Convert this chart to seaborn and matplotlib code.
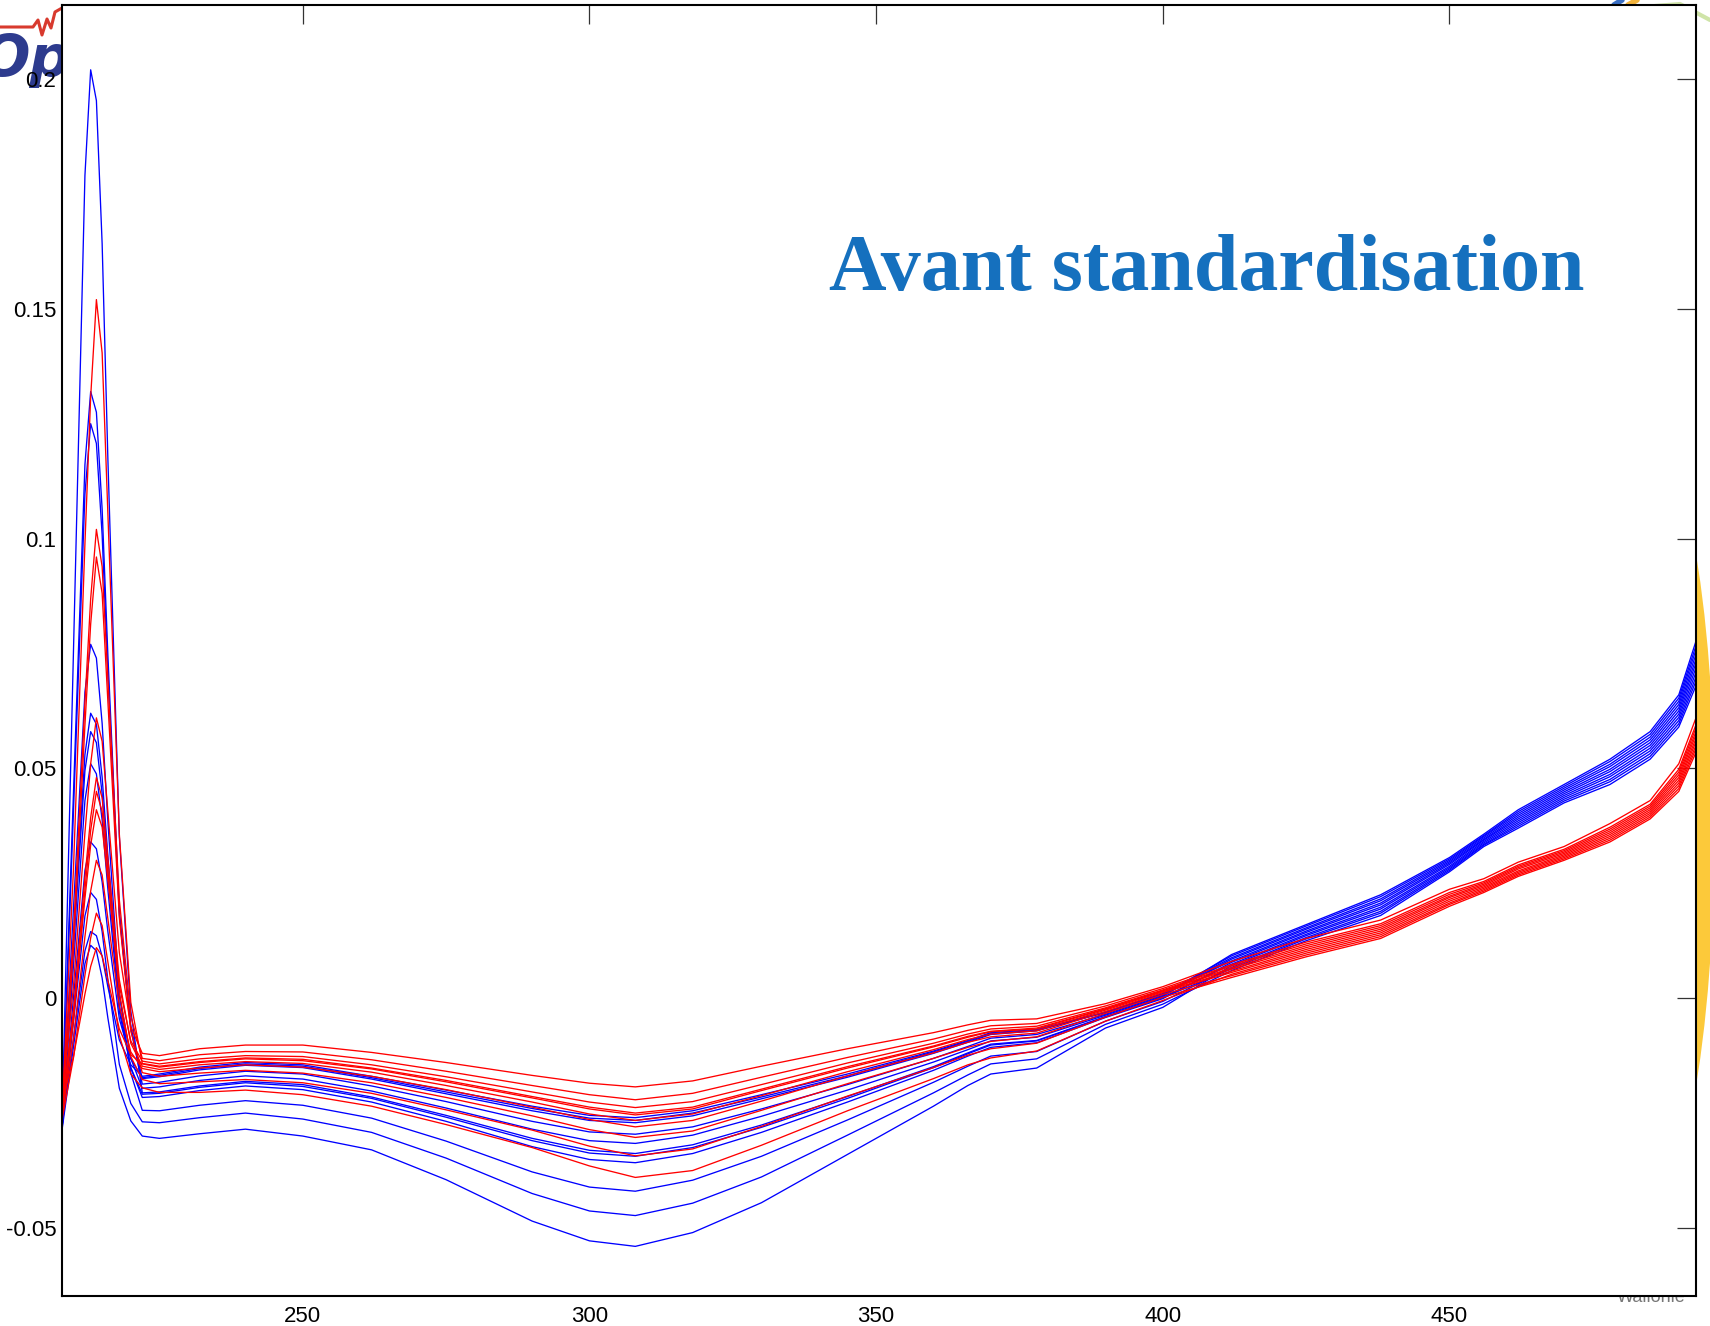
import matplotlib
matplotlib.use("Agg")
import matplotlib.pyplot as plt
from matplotlib.patches import Ellipse
from matplotlib.lines import Line2D
import pandas as pd
import seaborn as sns

# Wavelength grid (nm) shared by every spectrum
wavelength = [208, 210, 212, 213, 214, 215, 216, 218, 220, 222, 225, 232, 240, 250,
              262, 275, 290, 300, 308, 318, 330, 345, 360, 366, 370, 378, 390, 400,
              412, 425, 438, 450, 456, 462, 470, 478, 485, 490, 493]

# Lot A spectra (blue)
blue_01 = [-0.028, 0.0755, 0.179, 0.202, 0.1953, 0.1642, 0.1174, 0.0351, -0.0028,
           -0.0206, -0.0204, -0.0191, -0.0181, -0.0188, -0.0215, -0.0255, -0.0305, -0.0331, -0.0338,
           -0.0319, -0.0276, -0.0214, -0.0149, -0.0119, -0.0100, -0.0092, -0.0040, 0.0002,
           0.0074, 0.0139, 0.0198, 0.0287, 0.0341, 0.0386, 0.0441, 0.0487, 0.0544, 0.0618, 0.0719]
blue_02 = [-0.027, 0.0446, 0.1161, 0.132, 0.1275, 0.1064, 0.0747, 0.0190, -0.0066,
           -0.0187, -0.0183, -0.0169, -0.0159, -0.0165, -0.0191, -0.0225, -0.0268, -0.0291, -0.0296,
           -0.0280, -0.0241, -0.0188, -0.0131, -0.0105, -0.0087, -0.0079, -0.0035, 0.0006,
           0.0085, 0.0150, 0.0212, 0.0297, 0.0349, 0.0398, 0.0453, 0.0504, 0.0562, 0.0639, 0.0748]
blue_03 = [-0.0285, 0.0406, 0.1097, 0.125, 0.1207, 0.1008, 0.0709, 0.0181, -0.0061,
           -0.0175, -0.0171, -0.0156, -0.0146, -0.0151, -0.0176, -0.0208, -0.0245, -0.0266, -0.0271,
           -0.0256, -0.0219, -0.0172, -0.0120, -0.0096, -0.0079, -0.0071, -0.0031, 0.0009,
           0.0092, 0.0157, 0.0221, 0.0303, 0.0354, 0.0406, 0.0461, 0.0515, 0.0574, 0.0653, 0.0767]
blue_04 = [-0.0275, 0.0195, 0.0666, 0.077, 0.0740, 0.0598, 0.0385, 0.0010, -0.0163,
           -0.0244, -0.0245, -0.0233, -0.0223, -0.0233, -0.0261, -0.0311, -0.0378, -0.0411, -0.0420,
           -0.0396, -0.0344, -0.0265, -0.0183, -0.0148, -0.0126, -0.0116, -0.0050, -0.0007,
           0.0067, 0.0132, 0.0189, 0.0281, 0.0335, 0.0378, 0.0433, 0.0476, 0.0532, 0.0604, 0.0699]
blue_05 = [-0.028, 0.0125, 0.053, 0.062, 0.0596, 0.0481, 0.0310, 0.0008, -0.0131,
           -0.0196, -0.0193, -0.0179, -0.0169, -0.0176, -0.0202, -0.0239, -0.0285, -0.0310, -0.0316,
           -0.0298, -0.0257, -0.0200, -0.0139, -0.0112, -0.0093, -0.0085, -0.0037, 0.0004,
           0.0095, 0.0160, 0.0225, 0.0306, 0.0357, 0.0410, 0.0465, 0.0520, 0.0580, 0.0660, 0.0777]
blue_06 = [-0.0272, 0.0111, 0.0495, 0.058, 0.0556, 0.0445, 0.0278, -0.0017, -0.0152,
           -0.0216, -0.0214, -0.0201, -0.0191, -0.0199, -0.0226, -0.0268, -0.0323, -0.0351, -0.0358,
           -0.0338, -0.0292, -0.0226, -0.0157, -0.0126, -0.0107, -0.0097, -0.0042, -0.0001,
           0.0078, 0.0143, 0.0203, 0.0291, 0.0344, 0.0390, 0.0445, 0.0493, 0.0550, 0.0625, 0.0729]
blue_07 = [-0.0288, 0.0071, 0.0430, 0.051, 0.0488, 0.0388, 0.0237, -0.0029, -0.0151,
           -0.0209, -0.0207, -0.0194, -0.0184, -0.0192, -0.0218, -0.0259, -0.0310, -0.0337, -0.0344,
           -0.0325, -0.0281, -0.0218, -0.0151, -0.0121, -0.0102, -0.0093, -0.0041, 0.0001,
           0.0064, 0.0129, 0.0185, 0.0278, 0.0333, 0.0374, 0.0429, 0.0471, 0.0526, 0.0597, 0.0690]
blue_08 = [-0.0276, 0.0001, 0.0278, 0.034, 0.0325, 0.0253, 0.0145, -0.0045, -0.0132,
           -0.0173, -0.0168, -0.0153, -0.0143, -0.0148, -0.0173, -0.0204, -0.0240, -0.0261, -0.0266,
           -0.0250, -0.0215, -0.0169, -0.0117, -0.0094, -0.0077, -0.0070, -0.0031, 0.0009,
           0.0088, 0.0153, 0.0216, 0.0300, 0.0352, 0.0402, 0.0457, 0.0509, 0.0568, 0.0646, 0.0758]
blue_09 = [-0.0282, -0.0052, 0.0179, 0.023, 0.0215, 0.0145, 0.0040, -0.0144, -0.0229,
           -0.0269, -0.0271, -0.0260, -0.0250, -0.0263, -0.0292, -0.0348, -0.0425, -0.0463, -0.0473,
           -0.0446, -0.0389, -0.0298, -0.0206, -0.0167, -0.0143, -0.0132, -0.0057, -0.0013,
           0.0060, 0.0125, 0.0180, 0.0275, 0.0330, 0.0370, 0.0425, 0.0465, 0.0520, 0.0590, 0.0680]
blue_10 = [-0.0279, -0.0088, 0.0103, 0.0145, 0.0136, 0.0091, 0.0025, -0.0091, -0.0145,
           -0.0170, -0.0165, -0.0150, -0.0140, -0.0145, -0.0170, -0.0200, -0.0235, -0.0255, -0.0260,
           -0.0245, -0.0210, -0.0165, -0.0115, -0.0092, -0.0075, -0.0068, -0.0030, 0.0010,
           0.0081, 0.0146, 0.0207, 0.0294, 0.0346, 0.0394, 0.0449, 0.0498, 0.0556, 0.0632, 0.0738]
blue_11 = [-0.0287, -0.0106, 0.0075, 0.0115, 0.0103, 0.0044, -0.0043, -0.0196, -0.0267,
           -0.0300, -0.0305, -0.0295, -0.0285, -0.0300, -0.0330, -0.0395, -0.0485, -0.0528, -0.0540,
           -0.0510, -0.0445, -0.0340, -0.0235, -0.0190, -0.0165, -0.0152, -0.0065, -0.0020,
           0.0071, 0.0136, 0.0194, 0.0284, 0.0338, 0.0382, 0.0437, 0.0482, 0.0538, 0.0611, 0.0709]

# Lot B spectra (red)
red_01 = [-0.025, 0.0281, 0.0989, 0.1308, 0.152, 0.1404, 0.1055, 0.0357, -0.0009,
          -0.0142, -0.0148, -0.0138, -0.0130, -0.0133, -0.0152, -0.0179, -0.0214, -0.0237, -0.0250,
          -0.0237, -0.0198, -0.0149, -0.0104, -0.0083, -0.0072, -0.0065, -0.0023, 0.0016,
          0.0063, 0.0110, 0.0150, 0.0219, 0.0245, 0.0281, 0.0315, 0.0360, 0.0410, 0.0480, 0.0573]
red_02 = [-0.0235, 0.0142, 0.0644, 0.0869, 0.102, 0.0939, 0.0698, 0.0214, -0.0039,
          -0.0131, -0.0136, -0.0123, -0.0116, -0.0117, -0.0134, -0.0159, -0.0190, -0.0210, -0.0221,
          -0.0207, -0.0172, -0.0129, -0.0089, -0.0070, -0.0060, -0.0055, -0.0017, 0.0021,
          0.0073, 0.0122, 0.0162, 0.0230, 0.0254, 0.0290, 0.0324, 0.0372, 0.0422, 0.0498, 0.0595]
red_03 = [-0.026, 0.0106, 0.0594, 0.0814, 0.096, 0.0881, 0.0646, 0.0175, -0.0072,
          -0.0162, -0.0170, -0.0163, -0.0157, -0.0163, -0.0184, -0.0216, -0.0256, -0.0286, -0.0303,
          -0.0289, -0.0244, -0.0186, -0.0131, -0.0107, -0.0094, -0.0084, -0.0033, 0.0008,
          0.0049, 0.0094, 0.0134, 0.0204, 0.0233, 0.0268, 0.0303, 0.0344, 0.0394, 0.0456, 0.0543]
red_04 = [-0.0225, 0.0026, 0.0360, 0.0510, 0.061, 0.0559, 0.0406, 0.0099, -0.0062,
          -0.0120, -0.0125, -0.0110, -0.0102, -0.0102, -0.0118, -0.0140, -0.0168, -0.0185, -0.0193,
          -0.0180, -0.0148, -0.0110, -0.0075, -0.0058, -0.0048, -0.0045, -0.0012, 0.0025,
          0.0080, 0.0130, 0.0170, 0.0237, 0.0260, 0.0296, 0.0330, 0.0380, 0.0430, 0.0510, 0.0610]
red_05 = [-0.0245, -0.0027, 0.0263, 0.0393, 0.048, 0.0436, 0.0304, 0.0040, -0.0098,
          -0.0148, -0.0155, -0.0145, -0.0138, -0.0142, -0.0161, -0.0190, -0.0226, -0.0252, -0.0266,
          -0.0252, -0.0212, -0.0160, -0.0112, -0.0090, -0.0078, -0.0071, -0.0026, 0.0014,
          0.0059, 0.0106, 0.0146, 0.0215, 0.0242, 0.0277, 0.0312, 0.0356, 0.0406, 0.0474, 0.0565]
red_06 = [-0.0262, -0.0048, 0.0236, 0.0365, 0.045, 0.0406, 0.0274, 0.0011, -0.0127,
          -0.0177, -0.0186, -0.0182, -0.0177, -0.0184, -0.0207, -0.0243, -0.0287, -0.0322, -0.0343,
          -0.0328, -0.0279, -0.0213, -0.0151, -0.0124, -0.0110, -0.0098, -0.0041, 0.0002,
          0.0045, 0.0090, 0.0130, 0.0200, 0.0230, 0.0265, 0.0300, 0.0340, 0.0390, 0.0450, 0.0535]
red_07 = [-0.0232, -0.0039, 0.0217, 0.0333, 0.041, 0.0372, 0.0257, 0.0027, -0.0093,
          -0.0137, -0.0143, -0.0132, -0.0125, -0.0127, -0.0145, -0.0171, -0.0204, -0.0226, -0.0238,
          -0.0225, -0.0188, -0.0141, -0.0098, -0.0078, -0.0067, -0.0061, -0.0021, 0.0018,
          0.0070, 0.0118, 0.0158, 0.0226, 0.0251, 0.0287, 0.0321, 0.0368, 0.0418, 0.0492, 0.0588]
red_08 = [-0.0255, -0.0088, 0.0134, 0.0233, 0.030, 0.0268, 0.0173, -0.0017, -0.0117,
          -0.0153, -0.0160, -0.0152, -0.0145, -0.0150, -0.0170, -0.0199, -0.0237, -0.0264, -0.0280,
          -0.0266, -0.0224, -0.0169, -0.0119, -0.0096, -0.0084, -0.0076, -0.0029, 0.0012,
          0.0056, 0.0102, 0.0142, 0.0211, 0.0239, 0.0274, 0.0309, 0.0352, 0.0402, 0.0468, 0.0558]
red_09 = [-0.0265, -0.0130, 0.0050, 0.0131, 0.0185, 0.0158, 0.0079, -0.0081, -0.0165,
          -0.0195, -0.0205, -0.0205, -0.0200, -0.0210, -0.0235, -0.0275, -0.0325, -0.0365, -0.0390,
          -0.0375, -0.0320, -0.0245, -0.0175, -0.0145, -0.0130, -0.0115, -0.0050, -0.0005,
          0.0052, 0.0098, 0.0138, 0.0207, 0.0236, 0.0271, 0.0306, 0.0348, 0.0398, 0.0462, 0.0550]
red_10 = [-0.0228, -0.0127, 0.0009, 0.0069, 0.011, 0.0092, 0.0039, -0.0067, -0.0123,
          -0.0143, -0.0150, -0.0140, -0.0132, -0.0136, -0.0154, -0.0182, -0.0217, -0.0241, -0.0254,
          -0.0241, -0.0201, -0.0152, -0.0106, -0.0085, -0.0073, -0.0067, -0.0024, 0.0016,
          0.0066, 0.0114, 0.0154, 0.0222, 0.0248, 0.0284, 0.0318, 0.0364, 0.0414, 0.0486, 0.0580]

blue_spectra = [blue_01, blue_02, blue_03, blue_04, blue_05, blue_06,
                blue_07, blue_08, blue_09, blue_10, blue_11]
red_spectra = [red_01, red_02, red_03, red_04, red_05, red_06,
               red_07, red_08, red_09, red_10]

x_ticks = [250, 300, 350, 400, 450]
y_ticks = [-0.05, 0, 0.05, 0.1, 0.15, 0.2]
y_tick_labels = ["-0.05", "0", "0.05", "0.1", "0.15", "0.2"]

# Long-form table: one row per (spectrum, wavelength)
records = []
for lot, spectra in (("A", blue_spectra), ("B", red_spectra)):
    for k, values in enumerate(spectra):
        for wl, v in zip(wavelength, values):
            records.append({"lot": lot, "spectrum": f"{lot}{k}", "nm": wl, "absorbance": v})
df = pd.DataFrame(records)

sns.set_style("white")
plt.rcParams["font.family"] = ["Liberation Sans", "DejaVu Sans"]

W, H = 1710, 1326
fig = plt.figure(figsize=(W / 100, H / 100), dpi=100)


def fx(px):
    return px / W


def fy(py):
    return 1 - py / H


ax = fig.add_axes([fx(62), fy(1296), fx(1696) - fx(62), fy(5) - fy(1296)])

sns.lineplot(data=df, x="nm", y="absorbance", hue="lot", units="spectrum",
             estimator=None, sort=False, palette={"A": "#0000ff", "B": "#ff0000"},
             linewidth=0.95, legend=False, ax=ax)

ax.set_xlim(208, 493)
ax.set_ylim(-0.0648, 0.2161)
ax.set_xticks(x_ticks)
ax.set_yticks(y_ticks)
ax.set_yticklabels(y_tick_labels)
ax.set_xlabel("")
ax.set_ylabel("")
for side in ("left", "right", "top", "bottom"):
    ax.spines[side].set_visible(True)
    ax.spines[side].set_color("black")
    ax.spines[side].set_linewidth(1.5)
ax.tick_params(axis="both", direction="in", length=14, width=0.9, color="#333333",
               top=True, right=True, labelsize=16, labelcolor="black")
ax.tick_params(axis="x", pad=7)
ax.tick_params(axis="y", pad=4)

# Slide title
fig.text(fx(829), fy(290), "Avant standardisation", fontsize=57.5, fontweight="bold",
         family=["Liberation Serif", "DejaVu Serif"], color="#1570be",
         ha="left", va="baseline")

# Slide background decorations, drawn beneath the axes
fig.patches.append(Ellipse((fx(1640), fy(820)), fx(150), 800 / H,
                           transform=fig.transFigure, facecolor="#fcc93a",
                           edgecolor="none", zorder=-2))
fig.lines.append(Line2D([fx(0), fx(33), fx(38), fx(42), fx(47), fx(51), fx(55), fx(62)],
                        [fy(27), fy(27), fy(20), fy(35), fy(19), fy(28), fy(12), fy(8)],
                        transform=fig.transFigure, color="#d83a2e", linewidth=2.2, zorder=-2))
fig.text(fx(-18), fy(76), "Op", fontsize=41, fontstyle="italic", fontweight="bold",
         family=["DejaVu Sans"], color="#2d3b8e", zorder=-2)
fig.lines.append(Line2D([fx(1614), fx(1622)], [fy(5), fy(0)], transform=fig.transFigure,
                        color="#3a6fc4", linewidth=4, zorder=-2))
fig.lines.append(Line2D([fx(1628), fx(1637)], [fy(5), fy(0)], transform=fig.transFigure,
                        color="#f2b33c", linewidth=4, zorder=-2))
fig.lines.append(Line2D([fx(1655), fx(1680), fx(1710)], [fy(6), fy(4), fy(20)],
                        transform=fig.transFigure, color="#cfe4a8", linewidth=3, zorder=-2))
fig.text(fx(1617), fy(1302), "Wallonie", fontsize=13, color="#777777",
         family=["Liberation Sans"], zorder=-2)

fig.savefig("out.png", dpi=100)
